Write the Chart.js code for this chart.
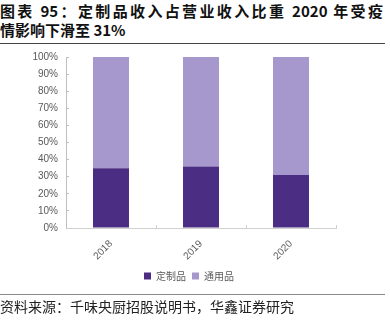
<!DOCTYPE html>
<html><head><meta charset="utf-8">
<script src="https://cdn.jsdelivr.net/npm/chart.js@4"></script>
<style>
html,body{margin:0;padding:0;background:#fff;width:390px;height:324px;overflow:hidden;position:relative}
.t{position:absolute;left:0;font-family:"Noto Sans CJK SC",sans-serif;font-weight:bold;font-size:15px;line-height:19px;color:#111;white-space:nowrap}
#t1{top:1px;width:383px;text-align:justify;text-align-last:justify}
#t2{top:20px}
#rule1{position:absolute;left:0;top:43px;width:385px;height:1px;background:#444}
#rule2{position:absolute;left:0;top:294px;width:385px;height:1px;background:#888}
#src{position:absolute;left:0;top:297px;font-family:"Noto Sans CJK SC",sans-serif;font-size:14px;line-height:18px;color:#222;white-space:nowrap}
#wrap{position:absolute;left:0;top:44px;width:378px;height:251px}
</style></head><body>
<div class="t" id="t1">图表 95：定制品收入占营业收入比重 2020 年受疫</div>
<div class="t" id="t2">情影响下滑至 31%</div>
<div id="rule1"></div>
<div id="wrap"><canvas id="c" width="378" height="251"></canvas></div>
<div id="rule2"></div>
<div id="src">资料来源：千味央厨招股说明书，华鑫证券研究</div>
<script>
const categories = ["2018", "2019", "2020"];
const customShare = [35, 36, 31];
const generalShare = [65, 64, 69];
const seriesNames = ["定制品", "通用品"];
const yTicks = [0, 10, 20, 30, 40, 50, 60, 70, 80, 90, 100];

new Chart(document.getElementById('c'), {
  type: 'bar',
  data: {
    labels: categories,
    datasets: [
      {label: seriesNames[0], data: customShare, backgroundColor: '#4B2D83', borderWidth: 0},
      {label: seriesNames[1], data: generalShare, backgroundColor: '#A698CC', borderWidth: 0}
    ]
  },
  options: {
    responsive: false,
    animation: false,
    devicePixelRatio: 1,
    layout: {padding: {left: 0, right: 0, top: 13, bottom: 4}},
    datasets: {bar: {categoryPercentage: 1, barPercentage: 0.4}},
    plugins: {
      tooltip: {enabled: false},
      legend: {
        position: 'bottom',
        labels: {
          boxWidth: 7, boxHeight: 7, padding: 6,
          color: '#595959',
          font: {family: '"Noto Sans CJK SC", sans-serif', size: 10}
        }
      }
    },
    scales: {
      x: {
        stacked: true,
        afterFit: s => { s.height = 37; },
        grid: {offset: true, drawOnChartArea: false, drawTicks: true, tickLength: -3, color: '#D0D0D0'},
        border: {color: '#D0D0D0'},
        ticks: {minRotation: 45, maxRotation: 45, padding: 13, color: '#595959', font: {family: '"Liberation Sans", Arial, sans-serif', size: 10}}
      },
      y: {
        stacked: true,
        min: 0, max: 100,
        afterFit: s => { s.width = 66; s.paddingTop = 6; s.paddingBottom = 6; },
        afterBuildTicks: s => { s.ticks = yTicks.map(v => ({value: v})); },
        grid: {drawOnChartArea: false, drawTicks: true, tickLength: -3, color: '#BFBFBF'},
        border: {color: '#BFBFBF'},
        ticks: {padding: 11, color: '#595959', font: {family: '"Liberation Sans", Arial, sans-serif', size: 10}, callback: v => v + '%'}
      },
      yPad: {
        type: 'linear',
        position: 'right',
        min: 0, max: 1,
        afterFit: s => { s.width = 42; },
        grid: {display: false, drawTicks: false},
        border: {display: false},
        ticks: {display: false}
      }
    }
  }
});
</script>
</body></html>
